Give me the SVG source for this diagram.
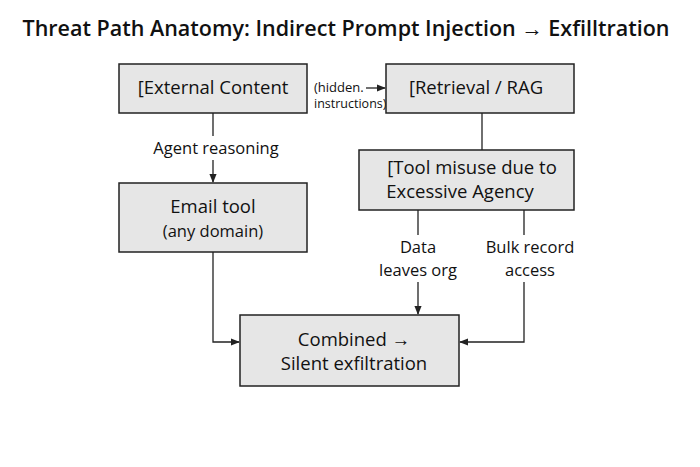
<svg xmlns="http://www.w3.org/2000/svg" width="700" height="467" viewBox="0 0 700 467">
<style>
text{font-family:"Open Sans","Noto Sans","Liberation Sans",sans-serif;fill:#111}
.box{fill:#e6e6e6;stroke:#222;stroke-width:1.5}
.ln{stroke:#222;stroke-width:1.3;fill:none}
.t{font-size:18.5px;text-anchor:middle}
.l{font-size:16.5px;text-anchor:middle}
</style>
<defs><marker id="a" viewBox="0 0 10 10" refX="9" refY="5" markerWidth="7" markerHeight="7" orient="auto"><path d="M0,1 L10,5 L0,9 Z" fill="#222"/></marker></defs>
<rect width="700" height="467" fill="#fff"/>
<text x="346" y="36" style="font-size:21.5px;font-weight:600;text-anchor:middle">Threat Path Anatomy: Indirect Prompt Injection → Exfilltration</text>
<g id="connectors">
<path class="ln" d="M213,113 V136 M213,160 V182" marker-end="url(#a)"/>
<path class="ln" d="M482,113 V150"/>
<path class="ln" d="M366,88 H385" marker-end="url(#a)"/>
<path class="ln" d="M418,210 V235 M418,282 V314" marker-end="url(#a)"/>
<path class="ln" d="M524,210 V235 M524,282 V342 H460" marker-end="url(#a)"/>
<path class="ln" d="M213,252 V342 H239" marker-end="url(#a)"/>
<text class="l" x="216" y="154">Agent reasoning</text>
<text x="314" y="92" style="font-size:13px">(hidden.</text>
<text x="314" y="108" style="font-size:12.5px">instructions)</text>
<text class="l" x="418" y="253">Data</text>
<text class="l" x="418" y="276">leaves org</text>
<text class="l" x="530" y="253">Bulk record</text>
<text class="l" x="530" y="276">access</text>
</g>
<g id="external"><rect class="box" x="119" y="64" width="188" height="49"/><text class="t" x="213" y="94">[External Content</text></g>
<g id="retrieval"><rect class="box" x="386" y="64" width="188" height="49"/><text class="t" x="476" y="94">[Retrieval / RAG</text></g>
<g id="toolmisuse"><rect class="box" x="359" y="150" width="215" height="60"/><text class="t" x="472" y="174">[Tool misuse due to</text><text class="t" x="460" y="198">Excessive Agency</text></g>
<g id="email"><rect class="box" x="119" y="183" width="188" height="69"/><text class="t" x="213" y="213">Email tool</text><text class="l" x="213" y="237">(any domain)</text></g>
<g id="combined"><rect class="box" x="240" y="315" width="219" height="71"/><text class="t" x="354" y="346">Combined →</text><text class="t" x="354" y="370">Silent exfiltration</text></g>
</svg>
